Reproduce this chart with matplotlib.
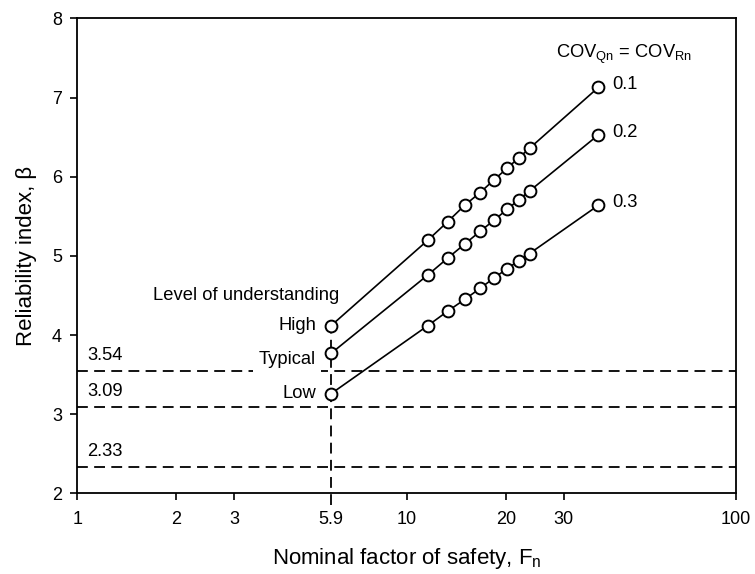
import numpy as np
import matplotlib
matplotlib.use("Agg")
import matplotlib.pyplot as plt
from matplotlib.ticker import FixedLocator, FixedFormatter, NullLocator

plt.rcParams['font.family'] = ['Liberation Sans', 'DejaVu Sans']
plt.rcParams['mathtext.fontset'] = 'custom'
plt.rcParams['mathtext.rm'] = 'Liberation Sans'
plt.rcParams['mathtext.it'] = 'Liberation Sans:italic'

# data
fs_n = [5.9, 11.6, 13.3, 15.0, 16.7, 18.4, 20.2, 21.9, 23.6, 38.2]
beta_01 = [4.12, 5.20, 5.43, 5.64, 5.80, 5.96, 6.11, 6.24, 6.36, 7.13]
beta_02 = [3.77, 4.76, 4.97, 5.15, 5.31, 5.45, 5.59, 5.71, 5.82, 6.53]
beta_03 = [3.26, 4.12, 4.30, 4.45, 4.59, 4.72, 4.84, 4.94, 5.03, 5.64]
cov_labels = ["0.1", "0.2", "0.3"]
target_betas = [3.54, 3.09, 2.33]
understanding = ["High", "Typical", "Low"]

xticks = [1, 2, 3, 5.9, 10, 20, 30, 100]
yticks = [2, 3, 4, 5, 6, 7, 8]

fig = plt.figure(figsize=(7.55, 5.74), dpi=100)
ax = fig.add_axes([0.1024, 0.1406, 0.8726, 0.8272])

txt = 13.2
dash = (6, 3.5)
for b in target_betas:
    ax.axhline(b, color='black', lw=1.3, dashes=dash, zorder=1)
    ax.text(1.07, b + 0.2, f"{b:.2f}", fontsize=txt, va='center', ha='left')

# vertical line at Fn = 5.9
ax.plot([5.9, 5.9], [1.85, beta_01[0]], color='black', lw=1.3, dashes=dash,
        clip_on=False, zorder=1)

for series, lab in zip([beta_01, beta_02, beta_03], cov_labels):
    ax.plot(fs_n, series, color='black', lw=1.2, marker='o', ms=8.5,
            mfc='white', mec='black', mew=1.4, zorder=3)
    ax.annotate(lab, (fs_n[-1], series[-1]), xytext=(10, 2), textcoords='offset points',
                fontsize=txt, va='center', ha='left')

label_y = [beta_01[0], 3.69, beta_03[0]]
label_pad = [1.0, 4.0, 1.0]
for name, y, p in zip(understanding, label_y, label_pad):
    ax.annotate(name, (5.9, y), xytext=(-11, 0), textcoords='offset points',
                fontsize=txt, va='center', ha='right',
                bbox=dict(facecolor='white', edgecolor='none', pad=p), zorder=2)

ax.annotate("Level of understanding", (5.9, 4.5), xytext=(6, 0), textcoords='offset points',
            fontsize=txt, va='center', ha='right')
ax.text(28.3, 7.54, r"COV$_{\mathrm{Qn}}$ = COV$_{\mathrm{Rn}}$", fontsize=txt,
        va='center', ha='left')

ax.set_xscale('log')
ax.set_xlim(1, 100)
ax.set_ylim(2, 8)
ax.xaxis.set_major_locator(FixedLocator(xticks))
ax.xaxis.set_major_formatter(FixedFormatter([str(t) for t in xticks]))
ax.xaxis.set_minor_locator(NullLocator())
ax.set_yticks(yticks)
ax.tick_params(axis='both', direction='out', length=5, width=1.2, labelsize=13,
               top=False, right=False)
ax.tick_params(axis='x', pad=8)
ax.tick_params(axis='y', pad=6)
# no visible tick mark at 5.9 (dashed line passes there)
ax.xaxis.get_major_ticks()[3].tick1line.set_visible(False)

for s in ax.spines.values():
    s.set_linewidth(1.3)

ax.set_xlabel(r"Nominal factor of safety, F$_{\mathrm{n}}$", fontsize=16, labelpad=13)
ax.set_ylabel("Reliability index, β", fontsize=16, labelpad=11)

fig.savefig("out.png", dpi=100)
